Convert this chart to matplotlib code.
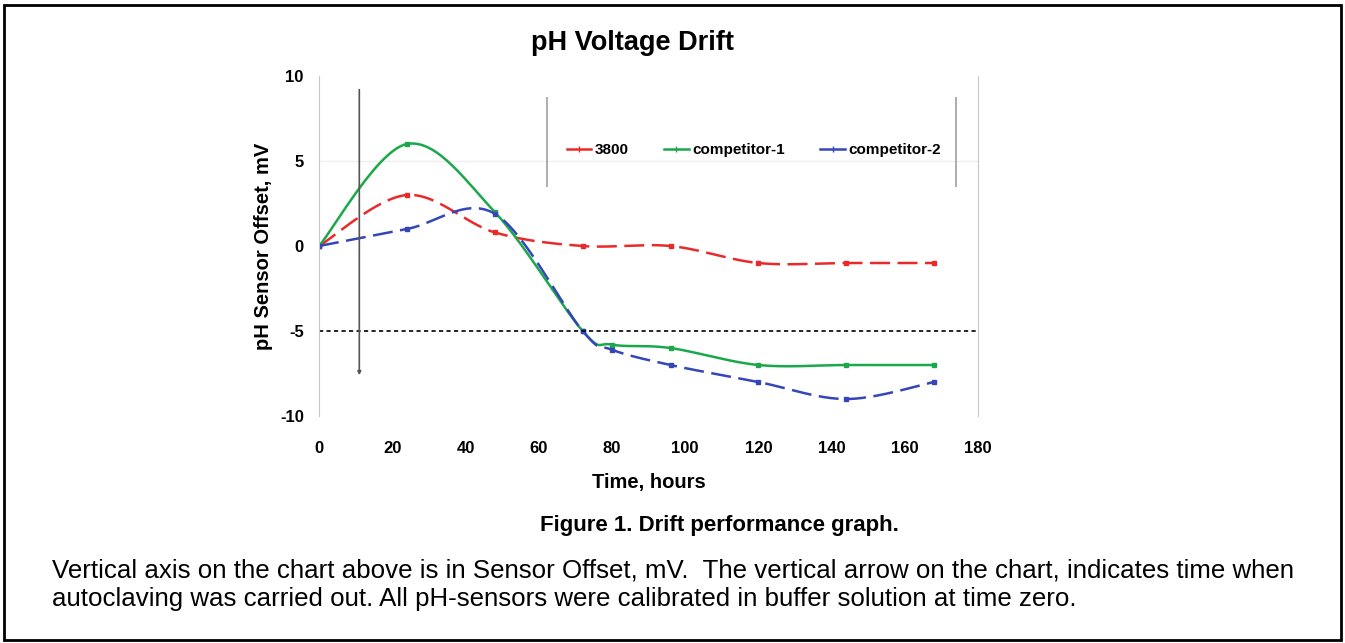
import numpy as np
import matplotlib
matplotlib.use("Agg")
import matplotlib.pyplot as plt
from matplotlib.patches import Rectangle

plt.rcParams['font.family'] = ['Liberation Sans', 'DejaVu Sans']
plt.rcParams['axes.unicode_minus'] = False

# data
t_3800 = [0, 24, 48, 72, 96, 120, 144, 168]
v_3800 = [0, 3, 0.8, 0, 0, -1, -1, -1]
t_comp1 = [0, 24, 48, 72, 80, 96, 120, 144, 168]
v_comp1 = [0, 6, 2.0, -5, -5.8, -6, -7, -7, -7]
t_comp2 = [0, 24, 48, 72, 80, 96, 120, 144, 168]
v_comp2 = [0, 1, 1.9, -5, -6.1, -7, -8, -9, -8]
x_ticks = [0, 20, 40, 60, 80, 100, 120, 140, 160, 180]
y_ticks = [-10, -5, 0, 5, 10]
autoclave_t = 11


def smooth(x, y, n=30):
    # excel-like smoothed line (bezier through the points)
    p = np.column_stack([x, y]).astype(float)
    pts = [p[0]]
    for i in range(len(p) - 1):
        p0 = p[i - 1] if i > 0 else p[i]
        p3 = p[i + 2] if i + 2 < len(p) else p[i + 1]
        c1 = p[i] + (p[i + 1] - p0) / 6
        c2 = p[i + 1] - (p3 - p[i]) / 6
        s = np.linspace(0, 1, n)[1:, None]
        seg = ((1 - s) ** 3 * p[i] + 3 * (1 - s) ** 2 * s * c1
               + 3 * (1 - s) * s ** 2 * c2 + s ** 3 * p[i + 1])
        pts.extend(seg)
    pts = np.array(pts)
    return pts[:, 0], pts[:, 1]


fig = plt.figure(figsize=(13.45, 6.43), dpi=100)
ax = fig.add_axes([0.2372, 0.353, 0.4900, 0.5288])

series = [
    (t_3800, v_3800, '#ea2a2a', (0, (8, 3)), '3800'),
    (t_comp1, v_comp1, '#1aa84a', '-', 'competitor-1'),
    (t_comp2, v_comp2, '#3446b8', (0, (8, 3)), 'competitor-2'),
]
for t, v, c, ls, lab in series:
    xs, ys = smooth(t, v)
    ax.plot(xs, ys, color=c, lw=1.8, ls=ls)
    ax.plot(t, v, ls='none', marker='s', ms=2.5, color=c)
    ax.plot([], [], color=c, lw=1.8, marker='|', ms=5, label=lab)

ax.axhline(5, color='#efefef', lw=1, zorder=0)
ax.axhline(-5, color='black', lw=1.2, ls=(0, (2.5, 2)))

# autoclaving arrow
ax.annotate('', xy=(autoclave_t, -7.6), xytext=(autoclave_t, 9.2),
            arrowprops=dict(arrowstyle='-|>', color='#555555', lw=1.2,
                            mutation_scale=5, shrinkA=0, shrinkB=0))

ax.set_xlim(0, 180)
ax.set_ylim(-10, 10)
ax.set_xticks(x_ticks)
ax.set_yticks(y_ticks)
ax.tick_params(length=0, labelsize=12, pad=11)
ax.tick_params(axis='x', pad=18)
for lbl in ax.get_xticklabels() + ax.get_yticklabels():
    lbl.set_fontweight('bold')
for s in ['top', 'bottom']:
    ax.spines[s].set_visible(False)
ax.spines['left'].set_color('#c8c8c8')
ax.spines['right'].set_color('#c8c8c8')

ax.set_title('pH Voltage Drift', fontsize=19.5, fontweight='bold', pad=19, x=0.475)
ax.set_xlabel('Time, hours', fontsize=14.5, fontweight='bold', labelpad=12)
ax.set_ylabel('pH Sensor Offset, mV', fontsize=14.5, fontweight='bold', labelpad=5)

leg = ax.legend(loc='center', bbox_to_anchor=(0.66, 0.782), ncol=3,
                frameon=False, fontsize=11, handlelength=1.6,
                columnspacing=2.3, handletextpad=0.25)
for txt in leg.get_texts():
    txt.set_fontweight('bold')
ax.vlines([62.3, 174], 3.45, 8.75, color='#a0a0a0', lw=1.2)

fig.text(0.535, 0.183, 'Figure 1. Drift performance graph.', ha='center',
         va='center', fontsize=16, fontweight='bold')
fig.text(0.039, 0.113, 'Vertical axis on the chart above is in Sensor Offset, mV.  '
         'The vertical arrow on the chart, indicates time when', fontsize=18.6,
         va='center')
fig.text(0.039, 0.068, 'autoclaving was carried out. All pH-sensors were '
         'calibrated in buffer solution at time zero.', fontsize=18.6,
         va='center')

fig.patches.append(Rectangle((0.003, 0.004), 0.994, 0.988, transform=fig.transFigure,
                             fill=False, ec='black', lw=2))

fig.savefig('out.png', dpi=100)
